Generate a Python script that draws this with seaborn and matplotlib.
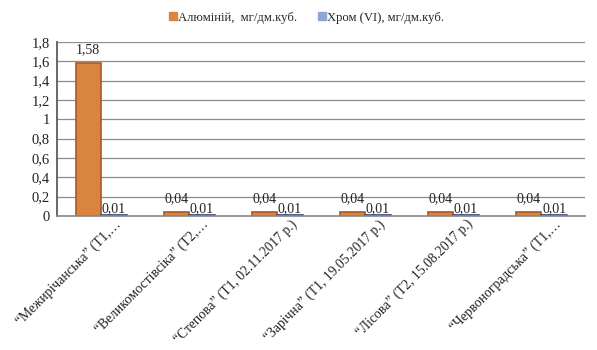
import matplotlib
matplotlib.use("Agg")
import matplotlib.pyplot as plt
import matplotlib.transforms as mtrans
from matplotlib.ticker import FixedLocator, FuncFormatter
from matplotlib.lines import Line2D
import seaborn as sns
import pandas as pd

# Water-sampling sites (labels as printed on the axis)
sites = [
    "“Межирічанська” (Т1,…",
    "“Великомостівсіка” (Т2,…",
    "“Степова” (Т1, 02.11.2017 р.)",
    "“Зарічна” (Т1, 19.05.2017 р.)",
    "“Лісова” (Т2, 15.08.2017 р.)",
    "“Червоноградська” (Т1,…",
]
series_names = ["Алюміній,  мг/дм.куб.", "Хром (VI), мг/дм.куб."]
aluminium = [1.58, 0.04, 0.04, 0.04, 0.04, 0.04]
chromium = [0.01, 0.01, 0.01, 0.01, 0.01, 0.01]

df = pd.DataFrame({
    "site": sites * 2,
    "series": [series_names[0]] * len(sites) + [series_names[1]] * len(sites),
    "value": aluminium + chromium,
})

sns.set_theme(style="white")
plt.rcParams["font.family"] = ["Liberation Serif", "DejaVu Serif"]

face = {series_names[0]: "#DA853F", series_names[1]: "#8EA6D2"}
edge = ["#A9582A", "#2E4577"]
txt = "#222222"

fig = plt.figure(figsize=(5.97, 3.5), dpi=100)
ax = fig.add_axes([0.0955, 0.383, 0.885, 0.497])

sns.barplot(data=df, x="site", y="value", hue="series", order=sites,
            hue_order=series_names, palette=face, width=0.58, gap=0,
            linewidth=1.2, saturation=1, legend=False, ax=ax)

for cont, ec in zip(ax.containers, edge):
    for bar in cont:
        bar.set_edgecolor(ec)

fmt = lambda v: f"{v:.2f}".replace(".", ",")
ax.bar_label(ax.containers[0], fmt=fmt, padding=5, fontsize=10, color=txt)
ax.bar_label(ax.containers[1], fmt=fmt, padding=0, fontsize=10, color=txt)

ax.set_ylim(0, 1.8)
ax.set_xlim(-0.5, len(sites) - 0.5)
ax.yaxis.set_major_locator(FixedLocator([i * 0.2 for i in range(10)]))
ax.yaxis.set_major_formatter(FuncFormatter(
    lambda v, p: "0" if abs(v) < 1e-9 else ("1" if abs(v - 1) < 1e-9 else f"{v:.1f}".replace(".", ","))))
ax.tick_params(axis="y", length=0, labelsize=10.5, pad=5, colors=txt)
ax.grid(axis="y", color="#8C8C8C", linewidth=0.9)
ax.set_axisbelow(True)

# category boundaries carry the tick marks, centres carry the labels
ax.set_xticks([i - 0.5 for i in range(len(sites) + 1)])
ax.set_xticklabels([])
ax.set_xticks(range(len(sites)), minor=True)
ax.set_xticklabels(sites, minor=True, rotation=45, ha="right",
                   rotation_mode="anchor", fontsize=9.8, color=txt)
ax.tick_params(axis="x", which="major", length=4, color="#8C8C8C", direction="out")
ax.tick_params(axis="x", which="minor", length=0, pad=1)
offset = mtrans.ScaledTranslation(13 / 100, 0, fig.dpi_scale_trans)
for lbl in ax.get_xticklabels(minor=True):
    lbl.set_transform(lbl.get_transform() + offset)

ax.set_xlabel("")
ax.set_ylabel("")
for side in ("top", "right"):
    ax.spines[side].set_visible(False)
ax.spines["left"].set_color("#555555")
ax.spines["bottom"].set_color("#8C8C8C")

handles = [Line2D([], [], marker="s", linestyle="", markersize=5.5,
                  markerfacecolor=face[n], markeredgecolor=face[n]) for n in series_names]
fig.legend(handles, series_names, loc="center", bbox_to_anchor=(0.513, 0.949),
           ncol=2, frameon=False, fontsize=9.1, handletextpad=0.05,
           columnspacing=1.6, handlelength=0.7)

fig.savefig("out.png", dpi=100)
